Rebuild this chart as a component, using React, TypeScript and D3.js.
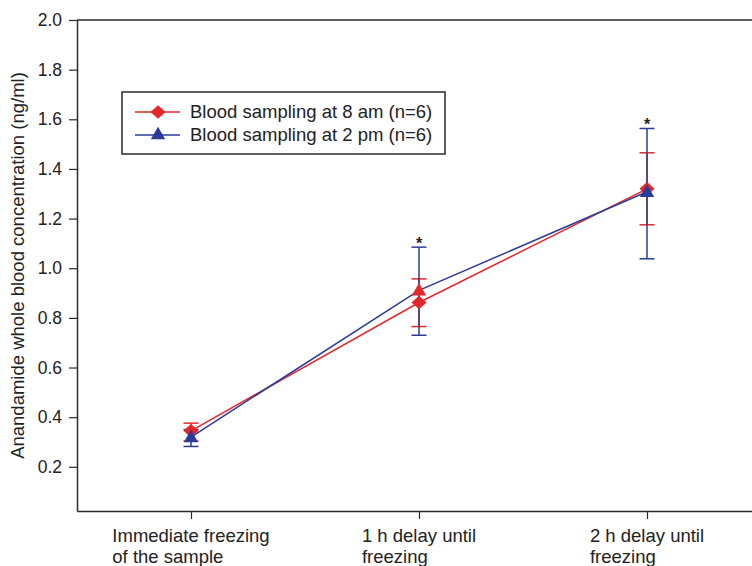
import { useRef, useEffect } from 'react';
import * as d3 from 'd3';

// chart values
const categories = ['Immediate freezing\nof the sample', '1 h delay until\nfreezing', '2 h delay until\nfreezing'];
const amMean = [0.345, 0.862, 1.32];
const amUpper = [0.376, 0.957, 1.465];
const amLower = [0.304, 0.765, 1.175];
const pmMean = [0.32, 0.911, 1.308];
const pmUpper = [0.35, 1.085, 1.563];
const pmLower = [0.282, 0.73, 1.038];
const starred = [false, true, true];
const yTicks = [0.2, 0.4, 0.6, 0.8, 1.0, 1.2, 1.4, 1.6, 1.8, 2.0];
const seriesNames = ['Blood sampling at 8 am (n=6)', 'Blood sampling at 2 pm (n=6)'];
const yTitle = 'Anandamide whole blood concentration (ng/ml)';

const RED = '#e2282a';
const BLUE = '#2c3b98';
const AXIS = '#2a2a2a';
const FONT = '"Liberation Sans", Arial, Helvetica, sans-serif';

export default function App() {
  const svgRef = useRef<SVGSVGElement>(null);

  useEffect(() => {
    const width = 752;
    const height = 566;
    const left = 77, top = 20, right = 761, bottom = 511;

    const svg = d3.select(svgRef.current);
    svg.selectAll('*').remove();
    svg.attr('width', width).attr('height', height);

    const x = d3.scalePoint<string>()
      .domain(categories)
      .range([left, right])
      .padding(0.5);

    const y = d3.scaleLinear()
      .domain([0.022, 2.0])
      .range([bottom, top]);

    const g = svg.append('g').style('font-family', FONT);

    // frame: top line and axes
    g.append('line')
      .attr('x1', left).attr('x2', right)
      .attr('y1', top).attr('y2', top)
      .attr('stroke', AXIS).attr('stroke-width', 1.5);

    const yAxis = g.append('g')
      .attr('transform', `translate(${left},0)`)
      .call(d3.axisLeft(y).tickValues(yTicks).tickSizeInner(8).tickSizeOuter(0).tickPadding(7).tickFormat(d3.format('.1f')));
    yAxis.select('.domain').attr('stroke', AXIS).attr('stroke-width', 1.5);
    yAxis.selectAll('.tick line').attr('stroke', AXIS).attr('stroke-width', 1.2);
    yAxis.selectAll('.tick text')
      .attr('fill', '#222')
      .style('font-size', '17.5px')
      .style('font-family', FONT);

    const xAxis = g.append('g')
      .attr('transform', `translate(0,${bottom})`)
      .call(d3.axisBottom(x).tickSizeInner(8).tickSizeOuter(0).tickFormat(() => ''));
    xAxis.select('.domain').attr('stroke', AXIS).attr('stroke-width', 1.5);
    xAxis.selectAll('.tick line').attr('stroke', AXIS).attr('stroke-width', 1.2);

    // multi-line x labels, left aligned and centred on their widest line
    categories.forEach(c => {
      const lines = c.split('\n');
      const t = g.append('text')
        .attr('fill', '#222')
        .style('font-size', '18.5px');
      lines.forEach((ln, i) => {
        t.append('tspan').attr('y', 542 + i * 20.5).text(ln);
      });
      const widest = d3.max(t.selectAll<SVGTSpanElement, unknown>('tspan').nodes(), n => n.getComputedTextLength()) || 0;
      t.selectAll('tspan').attr('x', (x(c) as number) - widest / 2);
    });

    // y title
    g.append('text')
      .attr('transform', `translate(24,${(top + bottom) / 2}) rotate(-90)`)
      .attr('text-anchor', 'middle')
      .attr('fill', '#222')
      .style('font-size', '18.5px')
      .text(yTitle);

    const diamond = d3.symbol().type(d3.symbolDiamond2).size(120);
    const triangle = d3.symbol().type(d3.symbolTriangle).size(90);

    const drawErr = (lo: number[], hi: number[], color: string) => {
      const eg = g.append('g').attr('stroke', color).attr('stroke-width', 1.5);
      categories.forEach((c, i) => {
        const cx = x(c) as number;
        eg.append('line').attr('x1', cx).attr('x2', cx).attr('y1', y(lo[i])).attr('y2', y(hi[i]));
        [lo[i], hi[i]].forEach(v => {
          eg.append('line').attr('x1', cx - 7.5).attr('x2', cx + 7.5).attr('y1', y(v)).attr('y2', y(v));
        });
      });
    };

    const line = d3.line<number>()
      .x((_, i) => x(categories[i]) as number)
      .y(d => y(d));

    drawErr(amLower, amUpper, RED);
    drawErr(pmLower, pmUpper, BLUE);

    g.append('path').datum(amMean).attr('d', line)
      .attr('fill', 'none').attr('stroke', RED).attr('stroke-width', 1.5);
    g.append('path').datum(pmMean).attr('d', line)
      .attr('fill', 'none').attr('stroke', BLUE).attr('stroke-width', 1.5);

    g.selectAll('.am').data(amMean).enter().append('path')
      .attr('d', diamond)
      .attr('transform', (d, i) => `translate(${x(categories[i])},${y(d)}) scale(1.1,1)`)
      .attr('fill', RED);

    // the middle triangle is printed red in the source figure
    g.selectAll('.pm').data(pmMean).enter().append('path')
      .attr('d', triangle)
      .attr('transform', (d, i) => `translate(${x(categories[i])},${y(d) + 1})`)
      .attr('fill', (_, i) => (i === 1 ? RED : BLUE));

    // significance stars
    categories.forEach((c, i) => {
      if (!starred[i]) return;
      g.append('text')
        .attr('x', x(c) as number)
        .attr('y', y(Math.max(amUpper[i], pmUpper[i])) + 2)
        .attr('text-anchor', 'middle')
        .attr('fill', '#222')
        .style('font-size', '16px')
        .style('font-weight', 'bold')
        .text('*');
    });

    // legend
    const lg = g.append('g');
    lg.append('rect')
      .attr('x', 122).attr('y', 92).attr('width', 323).attr('height', 62)
      .attr('fill', 'white').attr('stroke', AXIS).attr('stroke-width', 1.5);
    const rows = [
      { name: seriesNames[0], color: RED, sym: diamond, sx: 1.1 },
      { name: seriesNames[1], color: BLUE, sym: triangle, sx: 1 },
    ];
    rows.forEach((r, i) => {
      const ry = 112 + i * 23;
      lg.append('line').attr('x1', 135).attr('x2', 180).attr('y1', ry).attr('y2', ry)
        .attr('stroke', r.color).attr('stroke-width', 1.5);
      lg.append('path').attr('d', r.sym as any)
        .attr('transform', `translate(158,${ry}) scale(${r.sx},1)`)
        .attr('fill', r.color);
      lg.append('text')
        .attr('x', 190).attr('y', ry)
        .attr('dy', '0.35em')
        .attr('fill', '#222')
        .style('font-size', '18.5px')
        .text(r.name);
    });
  }, []);

  return <svg ref={svgRef} style={{ position: 'absolute', left: 0, top: 0, background: 'white' }} />;
}
